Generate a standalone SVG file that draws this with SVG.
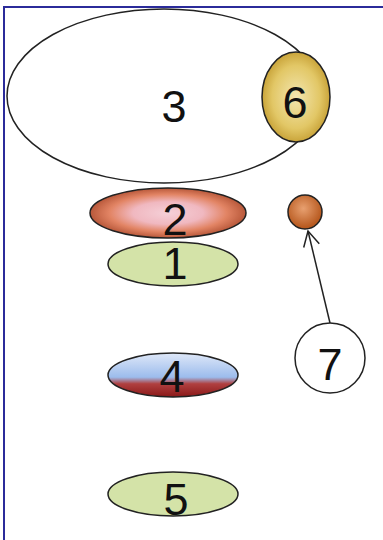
<svg xmlns="http://www.w3.org/2000/svg" width="383" height="540" viewBox="0 0 383 540">
<style>
.n{stroke:#222;stroke-width:1.5}
.t{font-family:"Liberation Sans",Arial,sans-serif;font-size:45px;fill:#111;text-anchor:middle}
.c{stroke:#222;stroke-width:1.5;fill:none}
</style>
<defs>
<radialGradient id="g6" cx="50%" cy="50%" r="50%">
<stop offset="0" stop-color="#f3e6b0"/><stop offset="0.7" stop-color="#e2c766"/><stop offset="1" stop-color="#c9a43a"/>
</radialGradient>
<radialGradient id="g2" cx="50%" cy="50%" r="50%">
<stop offset="0" stop-color="#f5d0d8"/><stop offset="0.45" stop-color="#f0b8c0"/><stop offset="0.75" stop-color="#e28464"/><stop offset="1" stop-color="#b8583a"/>
</radialGradient>
<radialGradient id="g8" cx="45%" cy="40%" r="55%">
<stop offset="0" stop-color="#e8a070"/><stop offset="1" stop-color="#b85a20"/>
</radialGradient>
<linearGradient id="g4" x1="0" y1="0" x2="0" y2="1">
<stop offset="0" stop-color="#dfe8f8"/><stop offset="0.55" stop-color="#9cbcec"/><stop offset="0.7" stop-color="#b04040"/><stop offset="1" stop-color="#8a1818"/>
</linearGradient>
<marker id="ah" markerWidth="20" markerHeight="20" refX="17" refY="10" orient="auto" markerUnits="userSpaceOnUse">
<path d="M2,2 L17,10 L2,18" fill="none" stroke="#222" stroke-width="1.5"/>
</marker>
</defs>
<rect width="383" height="540" fill="#fff"/>
<path d="M4,540 V7 H383" fill="none" stroke="#2b2b9a" stroke-width="2"/>
<g id="node3"><ellipse class="n" cx="164" cy="96" rx="157" ry="87" fill="#fff"/><text class="t" x="174" y="122">3</text></g>
<g id="node6"><ellipse class="n" cx="296" cy="97" rx="34" ry="45" fill="url(#g6)"/><text class="t" x="295" y="118">6</text></g>
<g id="node2"><ellipse class="n" cx="168" cy="213" rx="78" ry="25" fill="url(#g2)"/><text class="t" x="175" y="235">2</text></g>
<g id="node1"><ellipse class="n" cx="173" cy="264" rx="65" ry="22" fill="#d4e3a8"/><text class="t" x="175" y="279">1</text></g>
<g id="node4"><ellipse class="n" cx="173" cy="375" rx="65" ry="22" fill="url(#g4)"/><text class="t" x="172" y="392">4</text></g>
<g id="node5"><ellipse class="n" cx="173" cy="494" rx="65" ry="22" fill="#d4e3a8"/><text class="t" x="176" y="515">5</text></g>
<g id="node8"><circle class="n" cx="305" cy="212" r="17" fill="url(#g8)"/></g>
<g id="node7"><circle class="n" cx="330" cy="358" r="35" fill="#fff"/><text class="t" x="330" y="380">7</text></g>
<g id="connectors"><line class="c" x1="330" y1="323" x2="308" y2="231" marker-end="url(#ah)"/></g>
</svg>
